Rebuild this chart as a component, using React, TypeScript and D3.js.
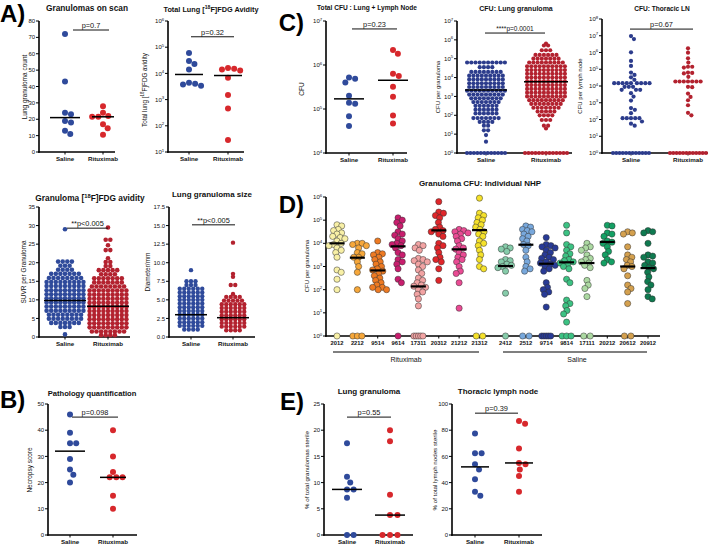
import React from 'react';
import * as d3 from 'd3';

const FONT = '"Liberation Sans", Arial, Helvetica, sans-serif';
const BLUE = '#2f4a9b';
const RED = '#d7282c';
const DBLUE = '#2c3c8c';
const DRED = '#b3222f';

const groups = ['Saline', 'Rituximab'];

// A) Granulomas on scan
const scanSaline = [72, 43, 24, 23, 19, 18, 13, 11];
const scanRitux = [28, 24, 22, 21.5, 21.5, 17, 14.5, 10.5];
const scanMedian = [21, 21.5];

// A) Total lung FDG avidity
const fdgSaline = [6.0e4, 3.0e4, 2.3e4, 1.4e4, 4.4e3, 4.0e3, 3.8e3, 3.4e3];
const fdgRitux = [1.6e4, 1.5e4, 1.4e4, 1.3e4, 6.8e3, 1.5e3, 4.6e2, 2.9e1];
const fdgMedian = [9.1e3, 8.3e3];

// A) SUVR per granuloma: [value, number of dots in the row]
const suvrSalineRows = [[29, 1], [20.3, 4], [19.2, 3], [18.1, 4], [17.0, 7], [15.9, 8], [14.8, 9], [13.7, 9], [12.6, 9], [11.5, 9], [10.4, 9], [9.3, 9], [8.2, 9], [7.1, 9], [6.0, 8], [4.9, 8], [3.8, 7], [2.7, 3], [0.7, 1]];
const suvrRituxRows = [[29.5, 1], [26.2, 2], [24.7, 1], [23.4, 2], [21.2, 1], [20.2, 2], [19.1, 2], [18.0, 5], [16.9, 4], [15.8, 7], [14.7, 7], [13.6, 8], [12.5, 9], [11.4, 9], [10.3, 9], [9.2, 9], [8.1, 9], [7.0, 9], [5.9, 9], [4.8, 9], [3.7, 9], [2.6, 9], [1.5, 8], [0.5, 4]];
const suvrMedian = [9.8, 8.3];

// A) Lung granuloma size
const diamSalineRows = [[9.0, 1], [7.5, 3], [7.0, 3], [6.5, 6], [6.0, 6], [5.5, 6], [5.0, 6], [4.5, 6], [4.0, 6], [3.5, 6], [3.0, 6], [2.5, 6], [2.0, 6], [1.5, 6], [1.0, 4]];
const diamRituxRows = [[12.7, 1], [8.5, 1], [8.1, 1], [7.0, 2], [5.8, 1], [5.4, 4], [4.9, 5], [4.4, 6], [3.9, 6], [3.4, 6], [2.9, 6], [2.4, 6], [1.9, 6], [1.4, 6], [0.9, 4]];
const diamMedian = [3.0, 2.6];

// B) Pathology
const necSaline = [46, 39, 35, 35, 29, 25, 23, 20];
const necRitux = [40, 30, 24, 22, 22, 22, 15, 10];
const necMedian = [32, 22];

// C) Total CFU
const totSaline = [5.2e5, 4.9e5, 4.0e5, 2.0e5, 1.38e5, 1.32e5, 6.8e4, 4.1e4];
const totRitux = [2.2e6, 1.8e6, 6.3e5, 5.6e5, 3.2e5, 1.9e5, 7.1e4, 4.7e4];
const totMedian = [1.7e5, 4.5e5];

// C) CFU lung granuloma, rows of [log10 CFU, count]
const granSalineRowsLog = [[4.8, 10], [4.55, 4], [4.3, 8], [4.1, 9], [3.9, 9], [3.7, 9], [3.5, 9], [3.3, 10], [3.1, 9], [2.9, 8], [2.7, 7], [2.5, 6], [2.3, 6], [2.1, 6], [1.85, 7], [1.65, 4], [1.45, 2], [1.2, 2], [0.95, 1], [0.6, 1]];
const granRituxRowsLog = [[5.8, 1], [5.7, 2], [5.45, 3], [5.2, 6], [5.0, 7], [4.8, 9], [4.6, 10], [4.4, 10], [4.2, 10], [4.0, 10], [3.8, 10], [3.6, 10], [3.4, 10], [3.2, 10], [3.0, 10], [2.8, 9], [2.6, 8], [2.4, 7], [2.2, 5], [2.0, 4], [1.75, 3], [1.45, 2], [1.3, 1]];
const granZeros = [12, 13];
const granMedianLog = [3.34, 3.78];

// C) CFU thoracic LN (log10)
const lnSalineLog = [6.98, 6.8, 6.01, 5.5, 5.2, 4.8, 4.66, 4.52, 4.37, 4.17, 4.17, 4.17, 4.17, 4.17, 4.17, 4.17, 4.17, 4.17, 3.95, 3.95, 3.95, 3.77, 3.77, 3.77, 3.57, 3.37, 3.13, 2.68, 2.58, 2.38, 2.08, 2.08, 2.08, 2.08, 2.08, 1.88, 1.75, 1.63];
const lnRituxLog = [6.25, 5.99, 5.65, 5.4, 5.15, 5.15, 5.1, 4.8, 4.78, 4.75, 4.55, 4.27, 4.27, 4.27, 4.27, 4.27, 4.27, 4.27, 3.95, 3.93, 3.55, 3.35, 3.15, 2.85, 2.4, 2.25];
const lnZeros = [12, 12];

// D) Individual NHP (log10 CFU per granuloma)
const dAnimals = ['2012', '2212', '9514', '9614', '17311', '20312', '21212', '21312', '2412', '2512', '9714', '9814', '17111', '20212', '20612', '20912'];
const d2012 = [4.8, 4.75, 4.6, 4.55, 4.45, 4.4, 4.3, 4.25, 4.2, 4.1, 4.0, 3.95, 3.9, 3.8, 3.7, 3.6, 3.4, 2.85, 2.75, 2.45, 2.0];
const d2212 = [4.0, 4.0, 3.95, 3.9, 3.8, 3.6, 3.55, 3.4, 3.4, 3.2, 3.0, 2.75, 2.0];
const d9514 = [4.1, 3.6, 3.55, 3.5, 3.4, 3.3, 3.2, 3.1, 3.0, 2.9, 2.85, 2.8, 2.7, 2.6, 2.5, 2.4, 2.3, 2.2, 2.1, 2.0, 2.0, 2.1];
const d9614 = [5.1, 5.0, 4.9, 4.75, 4.5, 4.4, 4.35, 4.2, 4.1, 4.0, 3.95, 3.9, 3.8, 3.6, 3.5, 3.3, 3.2, 3.1, 2.9, 2.45, 2.3];
const d17311 = [3.95, 3.9, 3.8, 3.7, 3.35, 3.3, 3.25, 3.2, 3.1, 3.0, 2.85, 2.7, 2.5, 2.4, 2.3, 2.2, 2.15, 2.1, 2.0, 1.9, 1.8, 1.6, 1.3];
const d20312 = [5.8, 5.35, 5.3, 5.2, 5.1, 4.9, 4.7, 4.6, 4.55, 4.5, 4.4, 4.3, 4.0, 3.9, 3.8, 3.6, 3.4, 3.3, 3.2, 2.9, 2.4];
const d21212 = [4.6, 4.55, 4.5, 4.45, 4.4, 4.3, 4.2, 4.1, 3.9, 3.8, 3.75, 3.6, 3.5, 3.4, 3.3, 3.2, 3.0, 2.8, 2.7, 2.3, 1.2];
const d21312 = [5.95, 5.3, 5.2, 5.1, 5.0, 4.9, 4.8, 4.7, 4.6, 4.5, 4.4, 4.3, 4.1, 4.0, 3.9, 3.7, 3.5, 3.3, 3.0, 2.9];
const d2412 = [3.85, 3.8, 3.75, 3.65, 3.3, 3.25, 3.2, 3.1, 3.05, 3.0, 2.95, 2.8, 1.85];
const d2512 = [4.75, 4.7, 4.6, 4.55, 4.5, 4.4, 4.3, 4.2, 4.1, 3.95, 3.9, 3.7, 3.4, 3.2, 3.0, 2.9, 2.8];
const d9714 = [4.25, 3.95, 3.9, 3.85, 3.8, 3.7, 3.6, 3.5, 3.4, 3.35, 3.3, 3.2, 3.15, 3.1, 3.05, 3.0, 2.9, 2.8, 2.3, 2.1, 2.0, 1.9, 1.8, 1.25];
const d9814 = [4.78, 4.45, 3.95, 3.85, 3.7, 3.55, 3.45, 3.3, 3.25, 3.2, 3.15, 3.1, 3.0, 2.9, 2.45, 2.3, 1.55, 1.4, 1.3, 1.1, 0.95, 0.6];
const d17111 = [4.0, 3.85, 3.8, 3.7, 3.5, 3.35, 3.3, 3.2, 3.15, 3.05, 2.95, 2.4, 2.2, 2.05, 1.7];
const d20212 = [4.78, 4.75, 4.45, 4.4, 4.3, 4.1, 4.05, 4.0, 3.85, 3.65, 3.5, 3.3, 3.2, 3.15];
const d20612 = [4.5, 4.45, 4.4, 3.85, 3.5, 3.4, 3.3, 3.2, 3.05, 3.0, 2.9, 2.6, 2.2, 2.05, 1.9, 1.4];
const d20912 = [4.55, 4.5, 4.45, 4.0, 3.5, 3.45, 3.4, 3.2, 3.15, 3.05, 2.95, 2.9, 2.75, 2.55, 2.35, 2.2, 2.0, 1.7, 1.6];
const dValues = [d2012, d2212, d9514, d9614, d17311, d20312, d21212, d21312, d2412, d2512, d9714, d9814, d17111, d20212, d20612, d20912];
const dZeros = [1, 3, 0, 1, 5, 0, 0, 2, 1, 2, 5, 3, 2, 0, 2, 0];
const dMedians = [4.0, 3.38, 2.83, 3.87, 2.14, 4.56, 3.74, 4.57, 3.02, 3.94, 3.12, 3.18, 3.15, 4.06, 3.0, 2.93];
const dColors = ['#f8f0a6', '#f6a73a', '#ee7a22', '#c81e6e', '#f2a3a3', '#e0262a', '#ea4b94', '#f5e12a', '#86ccaa', '#78a8dc', '#283a96', '#3cc283', '#acd9a2', '#14a064', '#d4a04e', '#0f7a50'];

// E) Sterility
const sterGranSaline = [17.5, 11.1, 10, 8.7, 8.7, 7.1, 0, 0];
const sterGranRitux = [20, 17.9, 7.7, 3.8, 3.8, 0, 0, 0];
const sterGranMedian = [8.7, 3.8];
const sterLnSaline = [77.5, 62.5, 62.5, 54, 50, 42.5, 33, 30];
const sterLnRitux = [87, 85, 66, 55, 54, 50, 45, 33];
const sterLnMedian = [52, 55];

function swarm(ys: number[], d: number): number[] {
  const order = ys.map((_, i) => i).sort((a, b) => ys[a] - ys[b]);
  const placed: { x: number; y: number }[] = [];
  const out: number[] = new Array(ys.length).fill(0);
  for (const i of order) {
    const y = ys[i];
    const cands = [0];
    for (const p of placed) {
      const dy = Math.abs(p.y - y);
      if (dy < d) {
        const dx = Math.sqrt(d * d - dy * dy);
        cands.push(p.x + dx + 0.01, p.x - dx - 0.01);
      }
    }
    cands.sort((a, b) => Math.abs(a) - Math.abs(b));
    let chosen = 0;
    for (const c of cands) {
      if (placed.every((p) => (p.x - c) ** 2 + (p.y - y) ** 2 >= d * d - 0.05)) {
        chosen = c;
        break;
      }
    }
    placed.push({ x: chosen, y });
    out[i] = chosen;
  }
  return out;
}

const LogLabel = ({ e }: { e: number }) => (
  <>
    10<tspan dy={-2.6} fontSize={4.3}>{e}</tspan>
  </>
);

function YAxis({ x, y, ticks, log = false, fmt }: any) {
  const r = y.range();
  return (
    <g fontFamily={FONT} fontSize={6} fill="#111">
      <line x1={x} x2={x} y1={r[0] + 0.8} y2={r[1]} stroke="#000" strokeWidth={1.6} />
      {ticks.map((t: number, i: number) => (
        <g key={i}>
          <line x1={x - 3} x2={x} y1={y(t)} y2={y(t)} stroke="#000" strokeWidth={1} />
          <text x={x - 3.8} y={y(t)} dy="0.35em" textAnchor="end">
            {log ? <LogLabel e={Math.round(Math.log10(t))} /> : fmt ? fmt(t) : t}
          </text>
        </g>
      ))}
    </g>
  );
}

function XAxis({ x0, x1, y0, cats, xs, fs = 6.2 }: any) {
  return (
    <g fontFamily={FONT} fontSize={fs} fontWeight="bold" fill="#111">
      <line x1={x0 - 0.8} x2={x1} y1={y0} y2={y0} stroke="#000" strokeWidth={1.6} />
      {cats.map((c: string, i: number) => (
        <g key={i}>
          <line x1={xs[i]} x2={xs[i]} y1={y0} y2={y0 + 2.5} stroke="#000" strokeWidth={1} />
          <text x={xs[i]} y={y0 + 3 + fs} textAnchor="middle">{c}</text>
        </g>
      ))}
    </g>
  );
}

function Title({ x, y, fs, children }: any) {
  return (
    <text x={x} y={y} textAnchor="middle" fontFamily={FONT} fontWeight="bold" fontSize={fs} fill="#111">
      {children}
    </text>
  );
}

function YLabel({ x, cy, children, fs = 6.5 }: any) {
  return (
    <text transform={`translate(${x},${cy}) rotate(-90)`} textAnchor="middle" fontFamily={FONT} fontSize={fs} fill="#111">
      {children}
    </text>
  );
}

function PBar({ x1, x2, y, label, fs = 7.4 }: any) {
  return (
    <g>
      <line x1={x1} x2={x2} y1={y} y2={y} stroke="#111" strokeWidth={1} />
      <text x={(x1 + x2) / 2} y={y - 2.2} textAnchor="middle" fontFamily={FONT} fontSize={fs} fill="#111">{label}</text>
    </g>
  );
}

function Median({ cx, hw, y, sw = 1.5 }: any) {
  return <line x1={cx - hw} x2={cx + hw} y1={y} y2={y} stroke="#000" strokeWidth={sw} />;
}

function Dots({ ys, cx, r, gap, fill, stroke = 'none', sw = 0 }: any) {
  const xs = swarm(ys, gap);
  return (
    <g>
      {ys.map((yy: number, i: number) => (
        <circle key={i} cx={cx + xs[i]} cy={yy} r={r} fill={fill} stroke={stroke} strokeWidth={sw} />
      ))}
    </g>
  );
}

function RowDots({ rows, cx, y, r, dx, fill, log = false }: any) {
  const out: any[] = [];
  rows.forEach(([v, n]: number[], ri: number) => {
    const yy = y(log ? Math.pow(10, v) : v);
    for (let j = 0; j < n; j++) {
      out.push(<circle key={ri + '-' + j} cx={cx + (j - (n - 1) / 2) * dx} cy={yy} r={r} fill={fill} />);
    }
  });
  return <g>{out}</g>;
}

function ZeroRow({ n, cx, width, y0, r, fill, stroke = 'none', sw = 0 }: any) {
  const out: any[] = [];
  for (let j = 0; j < n; j++) {
    const x = n === 1 ? cx : cx - width / 2 + (j * width) / (n - 1);
    out.push(<circle key={j} cx={x} cy={y0} r={r} fill={fill} stroke={stroke} strokeWidth={sw} />);
  }
  return <g>{out}</g>;
}

const FdgLabel = ({ cap }: { cap: boolean }) => (
  <>
    {cap ? 'Total Lung [' : 'Total lung ['}
    <tspan dy={-2.8} fontSize="70%">18</tspan>
    <tspan dy={2.8}>{cap ? 'F]FDG Avidity' : 'F]FDG avidity'}</tspan>
  </>
);

function lnSaline(y: any) {
  return lnSalineLog.map((v) => y(Math.pow(10, v)));
}
function lnRitux(y: any) {
  return lnRituxLog.map((v) => y(Math.pow(10, v)));
}

export default function App() {
  const yA1 = d3.scaleLinear().domain([0, 80]).range([152, 21]);
  const xA1 = d3.scalePoint<string>().domain(groups).range([65, 103]);
  const yA2 = d3.scaleLog().domain([10, 1e6]).range([152, 21]);
  const xA2 = d3.scalePoint<string>().domain(groups).range([189, 228]);
  const yA3 = d3.scaleLinear().domain([0, 35]).range([337, 207]);
  const xA3 = d3.scalePoint<string>().domain(groups).range([65, 108]);
  const yA4 = d3.scaleLinear().domain([0, 17.5]).range([337, 207]);
  const xA4 = d3.scalePoint<string>().domain(groups).range([191, 233]);
  const yB = d3.scaleLinear().domain([0, 50]).range([535, 404]);
  const xB = d3.scalePoint<string>().domain(groups).range([70, 113]);
  const yC1 = d3.scaleLog().domain([1e4, 1e7]).range([153, 21]);
  const xC1 = d3.scalePoint<string>().domain(groups).range([349, 393]);
  const yC2 = d3.scaleLog().domain([1, 1e7]).range([153, 21]);
  const xC2 = d3.scalePoint<string>().domain(groups).range([486, 546]);
  const yC3 = d3.scaleLog().domain([1, 1e8]).range([153, 19]);
  const xC3 = d3.scalePoint<string>().domain(groups).range([631, 688]);
  const yD = d3.scaleLog().domain([1, 1e6]).range([336, 197]);
  const xD = d3.scaleLinear().domain([0, 15.28]).range([337, 648]);
  const dX = dAnimals.map((_, i) => xD(i + (i >= 8 ? 0.28 : 0)));
  const yE1 = d3.scaleLinear().domain([0, 25]).range([535, 404]);
  const xE1 = d3.scalePoint<string>().domain(groups).range([347, 390]);
  const yE2 = d3.scaleLinear().domain([0, 100]).range([535, 404]);
  const xE2 = d3.scalePoint<string>().domain(groups).range([475, 519]);

  const pw = (v: number) => Math.pow(10, v);
  const fmt1 = (t: number) => t.toFixed(1);

  return (
    <svg width={720} height={546} style={{ position: 'absolute', left: 0, top: 0, background: '#fff' }} fontFamily={FONT}>
      <rect x={0} y={0} width={720} height={546} fill="#fff" />
      <g fontFamily={FONT} fontWeight="bold" fontSize={24} fill="#000">
        <text x={0} y={22}>A)</text>
        <text x={0} y={408}>B)</text>
        <text x={304} y={31} textAnchor="end">C)</text>
        <text x={304} y={213} textAnchor="end">D)</text>
        <text x={304} y={410} textAnchor="end">E)</text>
      </g>

      {/* A1 */}
      <Title x={87} y={11} fs={8.3}>Granulomas on scan</Title>
      <YLabel x={27} cy={87}>Lung granuloma count</YLabel>
      <YAxis x={39} y={yA1} ticks={d3.range(0, 81, 10)} />
      <XAxis x0={39} x1={115} y0={152} cats={groups} xs={groups.map((g) => xA1(g))} />
      <Dots ys={scanSaline.map((v) => yA1(v))} cx={xA1('Saline')} r={3} gap={6.2} fill={BLUE} />
      <Dots ys={scanRitux.map((v) => yA1(v))} cx={xA1('Rituximab')} r={3} gap={6.2} fill={RED} />
      <Median cx={xA1('Saline')} hw={15} y={yA1(scanMedian[0])} />
      <Median cx={xA1('Rituximab')} hw={11} y={yA1(scanMedian[1])} />
      <PBar x1={73} x2={109} y={yA1(74.5)} label="p=0.7" />

      {/* A2 */}
      <Title x={211} y={12} fs={7.3}><FdgLabel cap={true} /></Title>
      <YLabel x={147} cy={90} fs={6.3}><FdgLabel cap={false} /></YLabel>
      <YAxis x={168} y={yA2} ticks={[10, 1e2, 1e3, 1e4, 1e5, 1e6]} log />
      <XAxis x0={168} x1={244} y0={152} cats={groups} xs={groups.map((g) => xA2(g))} />
      <Dots ys={fdgSaline.map((v) => yA2(v))} cx={xA2('Saline')} r={3} gap={6.2} fill={BLUE} />
      <Dots ys={fdgRitux.map((v) => yA2(v))} cx={xA2('Rituximab')} r={3} gap={6.2} fill={RED} />
      <Median cx={xA2('Saline')} hw={14} y={yA2(fdgMedian[0])} />
      <Median cx={xA2('Rituximab')} hw={14} y={yA2(fdgMedian[1])} />
      <PBar x1={191} x2={234} y={yA2(2.5e5)} label="p=0.32" />

      {/* A3 */}
      <Title x={90} y={201} fs={8.3}>
        Granuloma [<tspan dy={-2.8} fontSize="70%">18</tspan><tspan dy={2.8}>F]FDG avidity</tspan>
      </Title>
      <YLabel x={26} cy={272}>SUVR per Granuloma</YLabel>
      <YAxis x={39} y={yA3} ticks={d3.range(0, 36, 5)} />
      <XAxis x0={39} x1={130} y0={337} cats={groups} xs={groups.map((g) => xA3(g))} />
      <RowDots rows={suvrSalineRows} cx={xA3('Saline')} y={yA3} r={2.3} dx={4.6} fill={BLUE} />
      <RowDots rows={suvrRituxRows} cx={xA3('Rituximab')} y={yA3} r={2.3} dx={4.6} fill={DRED} />
      <Median cx={xA3('Saline')} hw={21} y={yA3(suvrMedian[0])} />
      <Median cx={xA3('Rituximab')} hw={21} y={yA3(suvrMedian[1])} />
      <PBar x1={67} x2={108} y={yA3(29.3)} label="**p<0.005" />

      {/* A4 */}
      <Title x={212} y={197} fs={8}>Lung granuloma size</Title>
      <YLabel x={150} cy={272}>Diameter/mm</YLabel>
      <YAxis x={169} y={yA4} ticks={d3.range(0, 17.6, 2.5)} fmt={fmt1} />
      <XAxis x0={169} x1={255} y0={337} cats={groups} xs={groups.map((g) => xA4(g))} />
      <RowDots rows={diamSalineRows} cx={xA4('Saline')} y={yA4} r={2.2} dx={4.5} fill={BLUE} />
      <RowDots rows={diamRituxRows} cx={xA4('Rituximab')} y={yA4} r={2.2} dx={4.5} fill={DRED} />
      <Median cx={xA4('Saline')} hw={16} y={yA4(diamMedian[0])} />
      <Median cx={xA4('Rituximab')} hw={16} y={yA4(diamMedian[1])} />
      <PBar x1={192} x2={235} y={yA4(15.1)} label="**p<0.005" />

      {/* B */}
      <Title x={92} y={396} fs={7.6}>Pathology quantification</Title>
      <YLabel x={32} cy={470}>Necropsy score</YLabel>
      <YAxis x={48} y={yB} ticks={d3.range(0, 51, 10)} />
      <XAxis x0={48} x1={137} y0={535} cats={groups} xs={groups.map((g) => xB(g))} />
      <Dots ys={necSaline.map((v) => yB(v))} cx={xB('Saline')} r={3} gap={6.2} fill={BLUE} />
      <Dots ys={necRitux.map((v) => yB(v))} cx={xB('Rituximab')} r={3} gap={6.2} fill={RED} />
      <Median cx={xB('Saline')} hw={15} y={yB(necMedian[0])} />
      <Median cx={xB('Rituximab')} hw={13} y={yB(necMedian[1])} />
      <PBar x1={72} x2={118} y={yB(45)} label="p=0.098" />

      {/* C1 */}
      <Title x={367} y={10} fs={6.6}>Total CFU : Lung + Lymph Node</Title>
      <YLabel x={304} cy={89}>CFU</YLabel>
      <YAxis x={326} y={yC1} ticks={[1e4, 1e5, 1e6, 1e7]} log />
      <XAxis x0={326} x1={407} y0={153} cats={groups} xs={groups.map((g) => xC1(g))} />
      <Dots ys={totSaline.map((v) => yC1(v))} cx={xC1('Saline')} r={3} gap={6.2} fill={BLUE} />
      <Dots ys={totRitux.map((v) => yC1(v))} cx={xC1('Rituximab')} r={3} gap={6.2} fill={RED} />
      <Median cx={xC1('Saline')} hw={15} y={yC1(totMedian[0])} />
      <Median cx={xC1('Rituximab')} hw={15} y={yC1(totMedian[1])} />
      <PBar x1={352} x2={397} y={yC1(6.6e6)} label="p=0.23" />

      {/* C2 */}
      <Title x={516} y={11} fs={7}>CFU: Lung granuloma</Title>
      <YLabel x={440} cy={87} fs={6}>CFU per granuloma</YLabel>
      <YAxis x={457} y={yC2} ticks={d3.range(0, 8).map(pw)} log />
      <XAxis x0={457} x1={572} y0={153} cats={groups} xs={groups.map((g) => xC2(g))} />
      <RowDots rows={granSalineRowsLog} cx={xC2('Saline')} y={yC2} r={2.1} dx={4.2} fill={DBLUE} log />
      <RowDots rows={granRituxRowsLog} cx={xC2('Rituximab')} y={yC2} r={2.1} dx={4.2} fill={DRED} log />
      <ZeroRow n={granZeros[0]} cx={xC2('Saline')} width={38} y0={yC2(1)} r={2.1} fill={DBLUE} />
      <ZeroRow n={granZeros[1]} cx={xC2('Rituximab')} width={42} y0={yC2(1)} r={2.1} fill={DRED} />
      <Median cx={xC2('Saline')} hw={21} y={yC2(pw(granMedianLog[0]))} />
      <Median cx={xC2('Rituximab')} hw={22} y={yC2(pw(granMedianLog[1]))} />
      <PBar x1={485} x2={545} y={yC2(2.3e6)} label="****p=0.0001" fs={6.5} />

      {/* C3 */}
      <Title x={662} y={11} fs={6.6}>CFU: Thoracic LN</Title>
      <YLabel x={582} cy={86} fs={6}>CFU per lymph node</YLabel>
      <YAxis x={602} y={yC3} ticks={d3.range(0, 9).map(pw)} log />
      <XAxis x0={602} x1={708} y0={153} cats={groups} xs={groups.map((g) => xC3(g))} />
      <Dots ys={lnSaline(yC3)} cx={xC3('Saline')} r={2.1} gap={4.2} fill={DBLUE} />
      <Dots ys={lnRitux(yC3)} cx={xC3('Rituximab')} r={2.1} gap={4.2} fill={DRED} />
      <ZeroRow n={lnZeros[0]} cx={xC3('Saline')} width={36} y0={yC3(1)} r={2.1} fill={DBLUE} />
      <ZeroRow n={lnZeros[1]} cx={xC3('Rituximab')} width={36} y0={yC3(1)} r={2.1} fill={DRED} />
      <PBar x1={630} x2={693} y={yC3(2.5e7)} label="p=0.67" />

      {/* D */}
      <Title x={480} y={186} fs={8}>Granuloma CFU: Individual NHP</Title>
      <YLabel x={309} cy={266} fs={6}>CFU per granuloma</YLabel>
      <YAxis x={326} y={yD} ticks={d3.range(0, 7).map(pw)} log />
      <XAxis x0={326} x1={660} y0={336} cats={dAnimals} xs={dX} fs={5.8} />
      {dValues.map((vals, i) => (
        <g key={i}>
          <Dots ys={vals.map((v) => yD(pw(v)))} cx={dX[i]} r={3.1} gap={4.8} fill={dColors[i]} stroke="#333" sw={0.5} />
          {dZeros[i] > 0 && (
            <ZeroRow n={dZeros[i]} cx={dX[i]} width={Math.min(6.5 * (dZeros[i] - 1), 9)} y0={yD(1)} r={3.1} fill={dColors[i]} stroke="#333" sw={0.5} />
          )}
          <Median cx={dX[i]} hw={7.5} y={yD(pw(dMedians[i]))} sw={2.2} />
        </g>
      ))}
      <line x1={333} x2={479} y1={352} y2={352} stroke="#000" strokeWidth={1.2} />
      <text x={406} y={362} textAnchor="middle" fontFamily={FONT} fontSize={7} fill="#111">Rituximab</text>
      <line x1={503} x2={647} y1={352} y2={352} stroke="#000" strokeWidth={1.2} />
      <text x={577} y={362} textAnchor="middle" fontFamily={FONT} fontSize={7} fill="#111">Saline</text>

      {/* E1 */}
      <Title x={369} y={394} fs={8}>Lung granuloma</Title>
      <YLabel x={309} cy={470} fs={6.2}>% of total granulomas sterile</YLabel>
      <YAxis x={324} y={yE1} ticks={d3.range(0, 26, 5)} />
      <XAxis x0={324} x1={413} y0={535} cats={groups} xs={groups.map((g) => xE1(g))} />
      <Dots ys={sterGranSaline.map((v) => yE1(v))} cx={xE1('Saline')} r={3} gap={6.6} fill={BLUE} />
      <Dots ys={sterGranRitux.map((v) => yE1(v))} cx={xE1('Rituximab')} r={3} gap={7.5} fill={RED} />
      <Median cx={xE1('Saline')} hw={15} y={yE1(sterGranMedian[0])} />
      <Median cx={xE1('Rituximab')} hw={15} y={yE1(sterGranMedian[1])} />
      <PBar x1={347} x2={391} y={yE1(22.5)} label="p=0.55" />

      {/* E2 */}
      <Title x={498} y={394} fs={8}>Thoracic lymph node</Title>
      <YLabel x={437} cy={470} fs={6.2}>% of total lymph nodes sterile</YLabel>
      <YAxis x={452} y={yE2} ticks={d3.range(0, 101, 20)} />
      <XAxis x0={452} x1={542} y0={535} cats={groups} xs={groups.map((g) => xE2(g))} />
      <Dots ys={sterLnSaline.map((v) => yE2(v))} cx={xE2('Saline')} r={3} gap={6.6} fill={BLUE} />
      <Dots ys={sterLnRitux.map((v) => yE2(v))} cx={xE2('Rituximab')} r={3} gap={6.6} fill={RED} />
      <Median cx={xE2('Saline')} hw={14} y={yE2(sterLnMedian[0])} />
      <Median cx={xE2('Rituximab')} hw={14} y={yE2(sterLnMedian[1])} />
      <PBar x1={475} x2={518} y={yE2(93)} label="p=0.39" />
    </svg>
  );
}
